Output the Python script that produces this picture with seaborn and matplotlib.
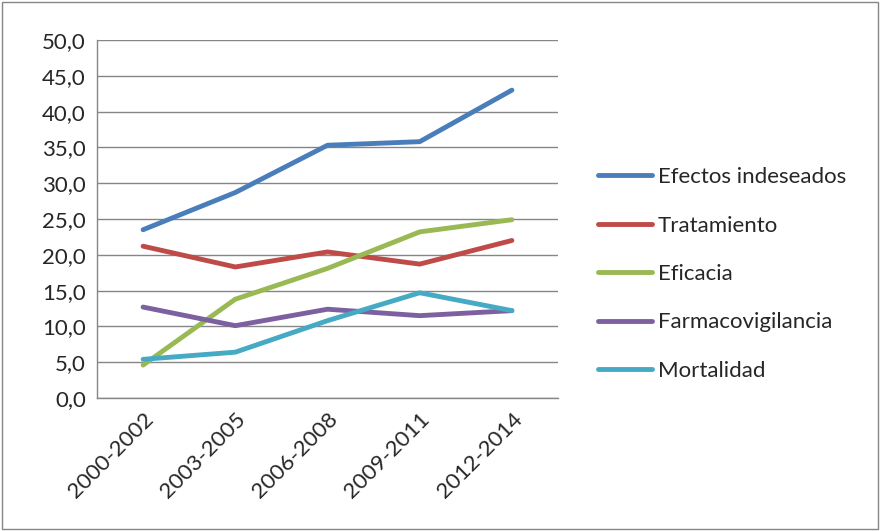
import numpy as np
import pandas as pd
import matplotlib
matplotlib.use("Agg")
import matplotlib.pyplot as plt
import seaborn as sns
from matplotlib.patches import Rectangle

periodos = ["2000-2002", "2003-2005", "2006-2008", "2009-2011", "2012-2014"]
series = ["Efectos indeseados", "Tratamiento", "Eficacia", "Farmacovigilancia", "Mortalidad"]
efectos = [23.5, 28.7, 35.3, 35.8, 43.0]
tratamiento = [21.2, 18.3, 20.4, 18.7, 22.0]
eficacia = [4.6, 13.8, 18.1, 23.2, 24.9]
farmaco = [12.7, 10.1, 12.4, 11.5, 12.2]
mortalidad = [5.4, 6.4, 10.8, 14.7, 12.2]
colores = ["#4A7EBB", "#BE4B48", "#98B954", "#7D60A0", "#46AAC5"]

rows = []
for name, vals in zip(series, [efectos, tratamiento, eficacia, farmaco, mortalidad]):
    for p, v in zip(periodos, vals):
        rows.append({"periodo": p, "serie": name, "valor": v})
df = pd.DataFrame(rows)

sns.set_style("white")
plt.rcParams["font.family"] = ["Lato", "DejaVu Sans"]
fs = 16
lw = 3.5

fig = plt.figure(figsize=(8.8, 5.31), dpi=100)
ax = fig.add_axes([97 / 880, 1 - 398 / 531, (558 - 97) / 880, (398 - 40) / 531])

sns.lineplot(data=df, x="periodo", y="valor", hue="serie", palette=colores,
             linewidth=lw, sort=False, ax=ax, solid_capstyle="round")

ax.set_xlim(-0.5, 4.5)
ax.set_ylim(0, 50)
yt = np.arange(0, 50.1, 5)
ax.set_yticks(yt)
ax.set_yticklabels([f"{v:.1f}".replace(".", ",") for v in yt], fontsize=fs)
ax.set_xticks(np.arange(-0.5, 4.6, 1), minor=False)
ax.set_xticklabels([])
ax.set_xticks(range(5), minor=True)
ax.set_xticklabels(periodos, minor=True, rotation=45, ha="right", rotation_mode="anchor", fontsize=fs)
ax.tick_params(axis="x", which="minor", length=0, pad=8)
ax.tick_params(axis="x", which="major", length=8, color="#868686", width=1)
ax.tick_params(axis="y", length=6, color="#868686", width=1, pad=2)
ax.yaxis.grid(True, color="#868686", linewidth=1)
ax.set_axisbelow(True)
ax.set_xlabel("")
ax.set_ylabel("")
for s in ["top", "right"]:
    ax.spines[s].set_visible(False)
for s in ["left", "bottom"]:
    ax.spines[s].set_color("#868686")
    ax.spines[s].set_linewidth(1)

handles, labels = ax.get_legend_handles_labels()
leg = ax.legend(handles, labels, loc="center left", bbox_to_anchor=(589 / 880, 1 - 274 / 531),
                bbox_transform=fig.transFigure, frameon=False, fontsize=fs, borderaxespad=0,
                handlelength=2.45, handletextpad=0.25, labelspacing=1.28)
for line in leg.get_lines():
    line.set_linewidth(lw)

fig.patches.append(Rectangle((2 / 880, 2 / 531), 876 / 880, 527 / 531, transform=fig.transFigure,
                             fill=False, edgecolor="#868686", linewidth=1))

fig.savefig("out.png", dpi=100)
